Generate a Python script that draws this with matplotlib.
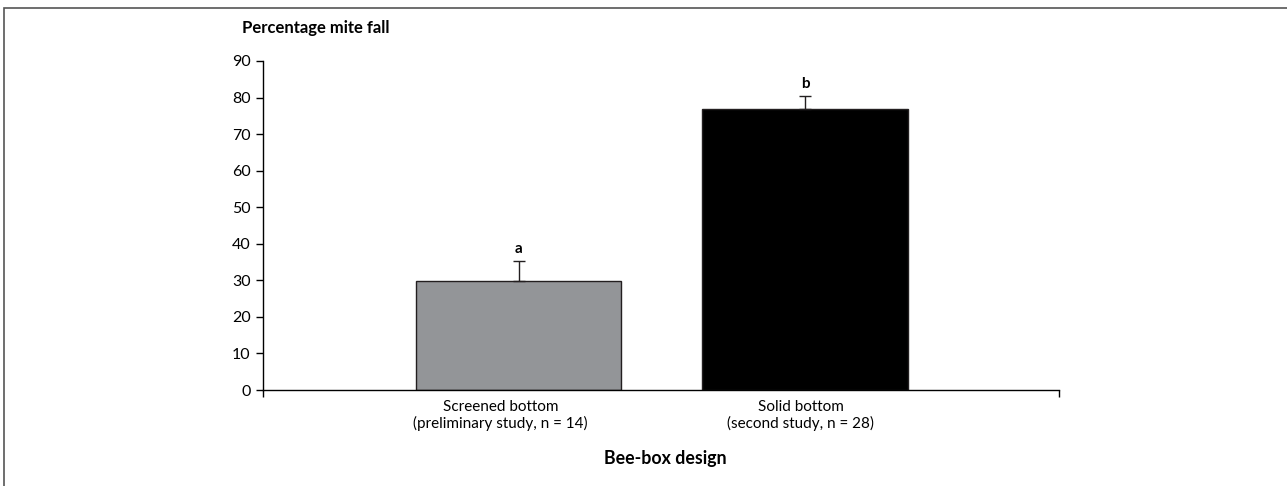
import matplotlib.pyplot as plt
from matplotlib.patches import Rectangle

# data
categories = ['Screened bottom\n(preliminary study, n = 14)',
              'Solid bottom\n(second study, n = 28)']
values = [29.8, 76.9]
errors = [5.4, 3.5]
letters = ['a', 'b']
colors = ['#939598', '#000000']
y_ticks = [0, 10, 20, 30, 40, 50, 60, 70, 80, 90]

plt.rcParams['font.family'] = ['Lato', 'DejaVu Sans']

fig = plt.figure(figsize=(12.87, 4.86), dpi=100)
ax = fig.add_axes([0.2044, 0.1975, 0.6185, 0.677])

x = [0, 1]
ax.bar(x, values, width=0.716, color=colors, edgecolor='#231f20',
       linewidth=1.0, zorder=2)
ax.errorbar(x, values, yerr=[[0, 0], errors], fmt='none', ecolor='#231f20',
            elinewidth=1.0, capsize=4, capthick=1.0, zorder=3)
for xi, v, e, lab in zip(x, values, errors, letters):
    ax.text(xi, v + e + 1.5, lab, ha='center', va='bottom',
            fontsize=11, fontweight='bold')

ax.set_xlim(-0.892, 1.887)
ax.set_ylim(0, 90)
ax.set_yticks(y_ticks)
ax.tick_params(axis='y', direction='out', length=5, width=1.0,
               labelsize=11.5, pad=4)
ax.set_xticks([-0.892, 1.887])
ax.set_xticklabels(['', ''])
ax.tick_params(axis='x', direction='out', length=5, width=1.0)
# category labels sit a little left of the bar centres in the original
label_shift = [-0.063, -0.014]
for xi, sh, lab in zip(x, label_shift, categories):
    ax.text(xi + sh, -2.7, lab, ha='center', va='top', fontsize=11,
            linespacing=1.2)

for s in ['top', 'right']:
    ax.spines[s].set_visible(False)
for s in ['left', 'bottom']:
    ax.spines[s].set_linewidth(1.0)

fig.text(242 / 1287, 1 - 28 / 486, 'Percentage mite fall', ha='left',
         va='center', fontsize=12, fontweight='bold')
fig.text(665 / 1287, 1 - 458 / 486, 'Bee-box design', ha='center',
         va='center', fontsize=12.8, fontweight='bold')

# frame line at top and left
fig.patches.append(Rectangle((4 / 1287, -0.1), 1.2, 1.1 - 8 / 486,
                             transform=fig.transFigure, fill=False,
                             edgecolor='#555555', linewidth=1.2))

plt.savefig('out.png', dpi=100)
plt.close()
